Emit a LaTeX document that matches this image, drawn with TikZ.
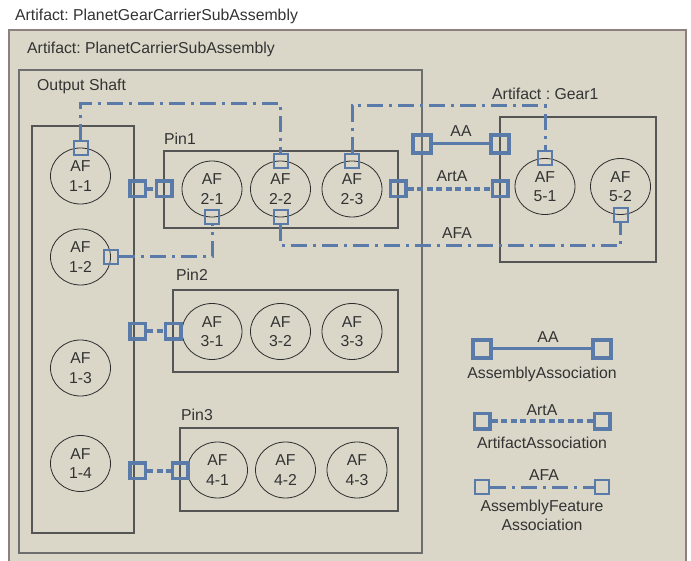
\documentclass[tikz,border=0pt]{standalone}
\usepackage{fontspec}
\setmainfont{Liberation Sans}
\usetikzlibrary{shapes.geometric,fit}
\definecolor{beige}{RGB}{218,215,201}
\definecolor{portblue}{RGB}{90,122,170}
\definecolor{txt}{RGB}{51,51,51}
\definecolor{framecol}{RGB}{140,128,128}
\definecolor{boxcol}{RGB}{85,85,85}
\definecolor{outercol}{RGB}{110,110,110}
\definecolor{ellcol}{RGB}{45,45,45}
\frenchspacing
\begin{document}
\begin{tikzpicture}[x=1pt,y=-1pt,
  font=\fontsize{15.8}{19.5}\selectfont\frenchspacing, text=txt,
  box/.style={draw=boxcol, line width=1.1pt, inner sep=0pt, fit={#1}},
  outerbox/.style={draw=outercol, line width=1.6pt, inner sep=0pt, fit={#1}},
  af/.style={ellipse, draw=ellcol, line width=0.8pt, minimum width=60pt, minimum height=56pt, inner sep=0pt, align=center},
  aaport/.style={rectangle, draw=portblue, line width=3.8pt, minimum size=18pt, inner sep=0pt},
  artport/.style={rectangle, draw=portblue, line width=3.5pt, minimum size=15.5pt, inner sep=0pt},
  afport/.style={rectangle, draw=portblue, line width=2pt, minimum size=14pt, inner sep=0pt},
  aaline/.style={draw=portblue, line width=3pt},
  artline/.style={draw=portblue, line width=4pt, dash pattern=on 6pt off 3.5pt},
  afaline/.style={draw=portblue, line width=3pt, dash pattern=on 16pt off 6pt on 3pt off 6pt},
  lbl/.style={inner sep=0pt, text=txt}]
\useasboundingbox (0,0) rectangle (691,561);
\fill[white] (0,0) rectangle (691,561);
% outer artifact area
\fill[beige] (9,30) rectangle (686,562);
\draw[framecol, line width=1.6pt] (9,562) -- (9,30) -- (686,30) -- (686,562);
\node[lbl, anchor=base west] (title) at (15,21) {Artifact: PlanetGearCarrierSubAssembly};
\node[lbl, anchor=base west] (pcsa) at (27,54) {Artifact: PlanetCarrierSubAssembly};
% boxes
\node[outerbox={(19,70) (422,553)}] (carrier) {};
\node[lbl, anchor=base west] (osl) at (37,91) {Output Shaft};
\node[box={(32,126) (134,533)}] (shaft) {};
\node[box={(164,151) (398,228)}] (pin1) {};
\node[lbl, anchor=base west] (pin1l) at (164,145) {Pin1};
\node[box={(173,290) (398,372)}] (pin2) {};
\node[lbl, anchor=base west] (pin2l) at (176,281) {Pin2};
\node[box={(180,428) (398,511)}] (pin3) {};
\node[lbl, anchor=base west] (pin3l) at (181,420) {Pin3};
\node[box={(500,117) (656,262)}] (gear1) {};
\node[lbl, anchor=base west] (gear1l) at (492,100) {Artifact : Gear1};
% assembly features
\node[af] (e11) at (80.5,176) {AF\\1-1};
\node[af] (e12) at (80.5,257) {AF\\1-2};
\node[af] (e13) at (80.5,368) {AF\\1-3};
\node[af] (e14) at (80.5,463.5) {AF\\1-4};
\node[af] (e21) at (212,189) {AF\\2-1};
\node[af] (e22) at (280.5,189) {AF\\2-2};
\node[af] (e23) at (352,189) {AF\\2-3};
\node[af] (e31) at (212,331.5) {AF\\3-1};
\node[af] (e32) at (280.5,331.5) {AF\\3-2};
\node[af] (e33) at (352,331.5) {AF\\3-3};
\node[af] (e41) at (217.5,470) {AF\\4-1};
\node[af] (e42) at (285.5,470) {AF\\4-2};
\node[af] (e43) at (357,470) {AF\\4-3};
\node[af] (e51) at (545,186.5) {AF\\5-1};
\node[af] (e52) at (620.5,186.5) {AF\\5-2};
% AFA ports
\node[afport] (pa11) at (e11.north) {};
\node[afport] (pa12) at (e12.east) {};
\node[afport] (pa21) at (e21.south) {};
\node[afport] (pa22t) at (e22.north) {};
\node[afport] (pa22b) at (e22.south) {};
\node[afport] (pa23) at (e23.north) {};
\node[afport] (pa51) at (e51.north) {};
\node[afport] (pa52) at (e52.south) {};
% ArtA ports
\node[artport] (sA) at (137.5,189) {};
\node[artport] (sB) at (137.5,331.5) {};
\node[artport] (sC) at (137.5,470.5) {};
\node[artport] (p1l) at (164,189) {};
\node[artport] (p1r) at (398,189) {};
\node[artport] (gl) at (500,189) {};
\node[artport] (p2l) at (173,331.5) {};
\node[artport] (p3l) at (180,470.5) {};
% AA ports
\node[aaport] (aa1) at (422,144) {};
\node[aaport] (aa2) at (500,144) {};
% connectors
\coordinate (h1) at (0,104);
\coordinate (h2) at (0,106);
\coordinate (h3) at (0,246);
\draw[afaline] (pa11.north) -- (pa11.north |- h1) -| (pa22t.north);
\draw[afaline] (pa23.north) -- (pa23.north |- h2) -| (pa51.north);
\draw[afaline] (pa12.east) -| (pa21.south);
\draw[afaline] (pa22b.south) -- (pa22b.south |- h3) -| (pa52.south);
\draw[artline] (sA) -- (p1l);
\draw[artline] (sB) -- (p2l);
\draw[artline] (sC) -- (p3l);
\draw[artline] (p1r) -- (gl);
\draw[aaline] (aa1) -- (aa2);
\node[lbl, anchor=base] (aalbl) at (461,137) {AA};
\node[lbl, anchor=base] (artlbl) at (452,182) {ArtA};
\node[lbl, anchor=base] (afalbl) at (457,239) {AFA};
% legend
\node[aaport] (lg1a) at (482,349) {};
\node[aaport] (lg1b) at (602,349) {};
\draw[aaline] (lg1a) -- (lg1b);
\node[lbl, anchor=base] (lg1t) at (548,343) {AA};
\node[lbl, anchor=base] (lg1n) at (542,378) {AssemblyAssociation};
\node[artport] (lg2a) at (482,421) {};
\node[artport] (lg2b) at (602,421) {};
\draw[artline] (lg2a) -- (lg2b);
\node[lbl, anchor=base] (lg2t) at (542,415) {ArtA};
\node[lbl, anchor=base] (lg2n) at (542,448) {ArtifactAssociation};
\node[afport] (lg3a) at (482,487) {};
\node[afport] (lg3b) at (602,487) {};
\draw[afaline] (lg3a) -- (lg3b);
\node[lbl, anchor=base] (lg3t) at (544,480) {AFA};
\node[lbl, anchor=base, align=center, font=\fontsize{15.8}{18.5}\selectfont] (lg3n) at (542,530) {AssemblyFeature\\Association};
\end{tikzpicture}
\end{document}
